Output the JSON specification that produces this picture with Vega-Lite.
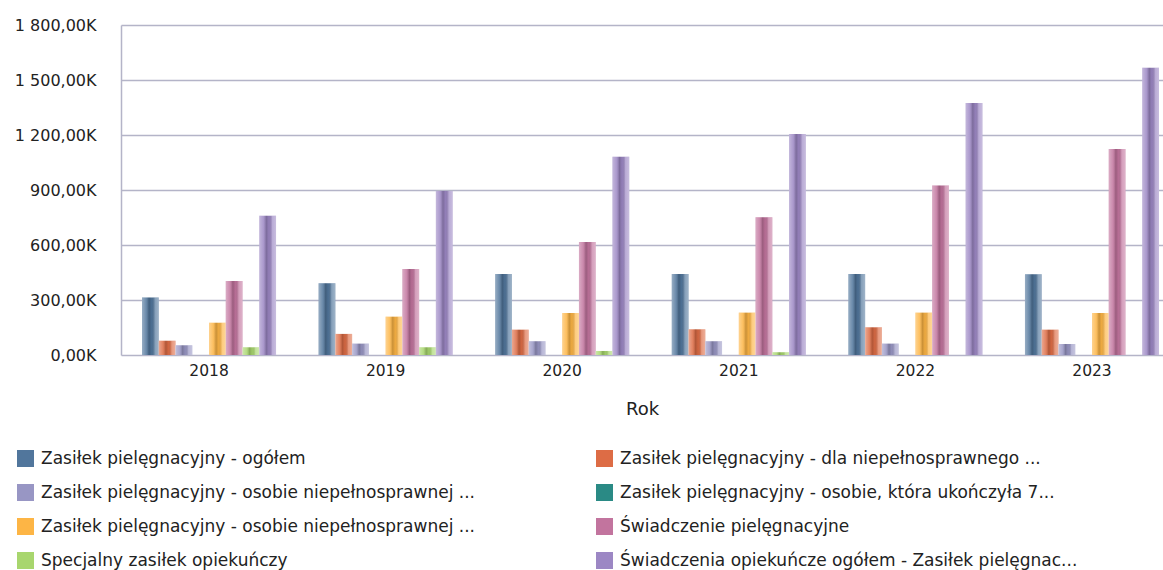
{
  "$schema": "https://vega.github.io/schema/vega-lite/v6.json",
  "autosize": {"type": "none"},
  "padding": {"left": 121, "top": 25, "right": 0, "bottom": 215},
  "width": 1042,
  "height": 330,
  "background": "white",
  "config": {
    "view": {"stroke": null},
    "font": "DejaVu Sans"
  },
  "data": {
    "values": [
      {"Rok": "2018", "Seria": "Zasiłek pielęgnacyjny - ogółem", "Wartosc": 313},
      {"Rok": "2018", "Seria": "Zasiłek pielęgnacyjny - dla niepełnosprawnego ...", "Wartosc": 78},
      {"Rok": "2018", "Seria": "Zasiłek pielęgnacyjny - osobie niepełnosprawnej ...", "Wartosc": 53},
      {"Rok": "2018", "Seria": "Zasiłek pielęgnacyjny - osobie, która ukończyła 7...", "Wartosc": 0},
      {"Rok": "2018", "Seria": "Zasiłek pielęgnacyjny -  osobie niepełnosprawnej ...", "Wartosc": 176},
      {"Rok": "2018", "Seria": "Świadczenie pielęgnacyjne", "Wartosc": 404},
      {"Rok": "2018", "Seria": "Specjalny zasiłek opiekuńczy", "Wartosc": 42},
      {"Rok": "2018", "Seria": "Świadczenia opiekuńcze ogółem - Zasiłek pielęgnac...", "Wartosc": 759},
      {"Rok": "2019", "Seria": "Zasiłek pielęgnacyjny - ogółem", "Wartosc": 391},
      {"Rok": "2019", "Seria": "Zasiłek pielęgnacyjny - dla niepełnosprawnego ...", "Wartosc": 115},
      {"Rok": "2019", "Seria": "Zasiłek pielęgnacyjny - osobie niepełnosprawnej ...", "Wartosc": 62},
      {"Rok": "2019", "Seria": "Zasiłek pielęgnacyjny - osobie, która ukończyła 7...", "Wartosc": 0},
      {"Rok": "2019", "Seria": "Zasiłek pielęgnacyjny -  osobie niepełnosprawnej ...", "Wartosc": 209},
      {"Rok": "2019", "Seria": "Świadczenie pielęgnacyjne", "Wartosc": 469},
      {"Rok": "2019", "Seria": "Specjalny zasiłek opiekuńczy", "Wartosc": 42},
      {"Rok": "2019", "Seria": "Świadczenia opiekuńcze ogółem - Zasiłek pielęgnac...", "Wartosc": 895},
      {"Rok": "2020", "Seria": "Zasiłek pielęgnacyjny - ogółem", "Wartosc": 442},
      {"Rok": "2020", "Seria": "Zasiłek pielęgnacyjny - dla niepełnosprawnego ...", "Wartosc": 138},
      {"Rok": "2020", "Seria": "Zasiłek pielęgnacyjny - osobie niepełnosprawnej ...", "Wartosc": 75},
      {"Rok": "2020", "Seria": "Zasiłek pielęgnacyjny - osobie, która ukończyła 7...", "Wartosc": 0},
      {"Rok": "2020", "Seria": "Zasiłek pielęgnacyjny -  osobie niepełnosprawnej ...", "Wartosc": 229},
      {"Rok": "2020", "Seria": "Świadczenie pielęgnacyjne", "Wartosc": 617},
      {"Rok": "2020", "Seria": "Specjalny zasiłek opiekuńczy", "Wartosc": 22},
      {"Rok": "2020", "Seria": "Świadczenia opiekuńcze ogółem - Zasiłek pielęgnac...", "Wartosc": 1082},
      {"Rok": "2021", "Seria": "Zasiłek pielęgnacyjny - ogółem", "Wartosc": 442},
      {"Rok": "2021", "Seria": "Zasiłek pielęgnacyjny - dla niepełnosprawnego ...", "Wartosc": 140},
      {"Rok": "2021", "Seria": "Zasiłek pielęgnacyjny - osobie niepełnosprawnej ...", "Wartosc": 75},
      {"Rok": "2021", "Seria": "Zasiłek pielęgnacyjny - osobie, która ukończyła 7...", "Wartosc": 0},
      {"Rok": "2021", "Seria": "Zasiłek pielęgnacyjny -  osobie niepełnosprawnej ...", "Wartosc": 231},
      {"Rok": "2021", "Seria": "Świadczenie pielęgnacyjne", "Wartosc": 752},
      {"Rok": "2021", "Seria": "Specjalny zasiłek opiekuńczy", "Wartosc": 15},
      {"Rok": "2021", "Seria": "Świadczenia opiekuńcze ogółem - Zasiłek pielęgnac...", "Wartosc": 1205},
      {"Rok": "2022", "Seria": "Zasiłek pielęgnacyjny - ogółem", "Wartosc": 442},
      {"Rok": "2022", "Seria": "Zasiłek pielęgnacyjny - dla niepełnosprawnego ...", "Wartosc": 151},
      {"Rok": "2022", "Seria": "Zasiłek pielęgnacyjny - osobie niepełnosprawnej ...", "Wartosc": 62},
      {"Rok": "2022", "Seria": "Zasiłek pielęgnacyjny - osobie, która ukończyła 7...", "Wartosc": 0},
      {"Rok": "2022", "Seria": "Zasiłek pielęgnacyjny -  osobie niepełnosprawnej ...", "Wartosc": 231},
      {"Rok": "2022", "Seria": "Świadczenie pielęgnacyjne", "Wartosc": 924},
      {"Rok": "2022", "Seria": "Specjalny zasiłek opiekuńczy", "Wartosc": 0},
      {"Rok": "2022", "Seria": "Świadczenia opiekuńcze ogółem - Zasiłek pielęgnac...", "Wartosc": 1374},
      {"Rok": "2023", "Seria": "Zasiłek pielęgnacyjny - ogółem", "Wartosc": 440},
      {"Rok": "2023", "Seria": "Zasiłek pielęgnacyjny - dla niepełnosprawnego ...", "Wartosc": 138},
      {"Rok": "2023", "Seria": "Zasiłek pielęgnacyjny - osobie niepełnosprawnej ...", "Wartosc": 60},
      {"Rok": "2023", "Seria": "Zasiłek pielęgnacyjny - osobie, która ukończyła 7...", "Wartosc": 0},
      {"Rok": "2023", "Seria": "Zasiłek pielęgnacyjny -  osobie niepełnosprawnej ...", "Wartosc": 229},
      {"Rok": "2023", "Seria": "Świadczenie pielęgnacyjne", "Wartosc": 1123},
      {"Rok": "2023", "Seria": "Specjalny zasiłek opiekuńczy", "Wartosc": 0},
      {"Rok": "2023", "Seria": "Świadczenia opiekuńcze ogółem - Zasiłek pielęgnac...", "Wartosc": 1567}
    ]
  },
  "encoding": {
    "x": {
      "field": "Rok",
      "type": "nominal",
      "scale": {"paddingInner": 0.241, "paddingOuter": 0.0708, "align": 0.84},
      "axis": {
        "title": "Rok",
        "labelAngle": 0,
        "labelFontSize": 15.5,
        "labelColor": "#222222",
        "labelPadding": 8,
        "ticks": false,
        "domain": false,
        "titleFontSize": 18,
        "titleFontWeight": "normal",
        "titleColor": "#222222",
        "titlePadding": 22
      }
    },
    "xOffset": {
      "field": "Seria",
      "type": "nominal",
      "sort": [
        "Zasiłek pielęgnacyjny - ogółem",
        "Zasiłek pielęgnacyjny - dla niepełnosprawnego ...",
        "Zasiłek pielęgnacyjny - osobie niepełnosprawnej ...",
        "Zasiłek pielęgnacyjny - osobie, która ukończyła 7...",
        "Zasiłek pielęgnacyjny -  osobie niepełnosprawnej ...",
        "Świadczenie pielęgnacyjne",
        "Specjalny zasiłek opiekuńczy",
        "Świadczenia opiekuńcze ogółem - Zasiłek pielęgnac..."
      ],
      "scale": {"paddingInner": 0, "paddingOuter": 0}
    },
    "y": {
      "field": "Wartosc",
      "type": "quantitative",
      "scale": {"domain": [0, 1800], "nice": false},
      "axis": {
        "title": null,
        "values": [0, 300, 600, 900, 1200, 1500, 1800],
        "labelExpr": "replace(replace(format(datum.value, ',.2f'), ',', ' '), '.', ',') + 'K'",
        "labelFontSize": 16,
        "labelColor": "#222222",
        "labelPadding": 25,
        "ticks": false,
        "domain": true,
        "domainColor": "#B4B4C8",
        "domainWidth": 1.5,
        "grid": true,
        "gridColor": "#B4B4C8",
        "gridWidth": 1.5
      }
    }
  },
  "layer": [
    {
      "mark": {"type": "bar"},
      "encoding": {
        "color": {
          "field": "Seria",
          "type": "nominal",
          "scale": {
            "domain": [
              "Zasiłek pielęgnacyjny - ogółem",
              "Zasiłek pielęgnacyjny - osobie niepełnosprawnej ...",
              "Zasiłek pielęgnacyjny -  osobie niepełnosprawnej ...",
              "Specjalny zasiłek opiekuńczy",
              "Zasiłek pielęgnacyjny - dla niepełnosprawnego ...",
              "Zasiłek pielęgnacyjny - osobie, która ukończyła 7...",
              "Świadczenie pielęgnacyjne",
              "Świadczenia opiekuńcze ogółem - Zasiłek pielęgnac..."
            ],
            "range": ["#51769C", "#9896C4", "#FDB545", "#A8D66E", "#DD6C45", "#2A8A85", "#C2749E", "#9C87C4"]
          },
          "legend": {
            "title": null,
            "orient": "none",
            "legendX": -104,
            "legendY": 425,
            "columns": 2,
            "columnPadding": 115,
            "rowPadding": 16,
            "padding": 0,
            "symbolType": "square",
            "symbolSize": 289,
            "symbolStrokeWidth": 0,
            "symbolOpacity": 1,
            "labelFontSize": 17,
            "labelColor": "#222222",
            "labelOffset": 7,
            "labelLimit": 600
          }
        }
      }
    },
    {
      "mark": {
        "type": "bar",
        "color": {
          "gradient": "linear",
          "x1": 0, "y1": 0, "x2": 1, "y2": 0,
          "stops": [
            {"offset": 0, "color": "rgba(255,255,255,0.4)"},
            {"offset": 0.25, "color": "rgba(255,255,255,0.15)"},
            {"offset": 0.42, "color": "rgba(0,0,0,0.2)"},
            {"offset": 0.58, "color": "rgba(0,0,0,0.06)"},
            {"offset": 0.78, "color": "rgba(255,255,255,0.3)"},
            {"offset": 1, "color": "rgba(255,255,255,0.45)"}
          ]
        }
      }
    }
  ]
}
